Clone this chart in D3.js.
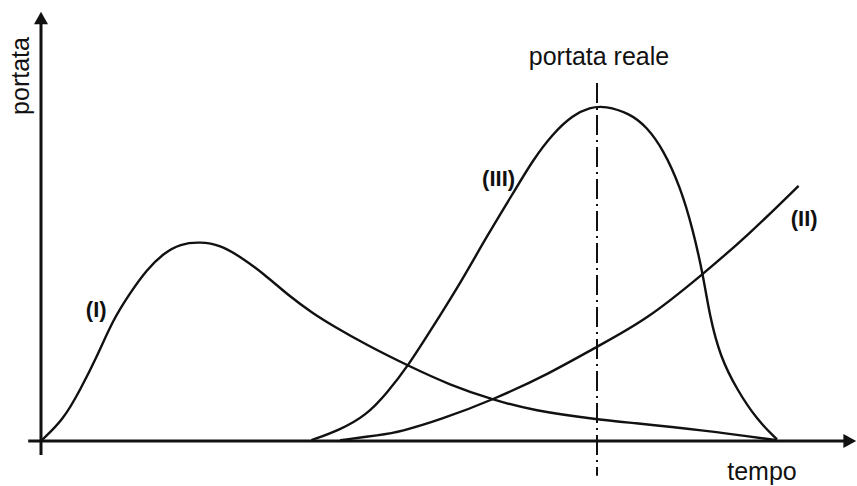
<!DOCTYPE html>
<html>
<head>
<meta charset="utf-8">
<script src="https://cdn.jsdelivr.net/npm/d3@7"></script>
<style>
  html, body { margin: 0; padding: 0; background: #fff; }
  svg { display: block; }
  text { font-family: "Liberation Sans", Arial, sans-serif; fill: #111; }
</style>
</head>
<body>
<svg id="chart" width="857" height="486"></svg>
<script>
// ---- data (time, flow) in arbitrary units ----
const timeI = [0, 2.8, 4.9, 7.0, 9.0, 11.1, 13.2, 15.3, 17.4, 19.9, 22.4, 24.9, 27.8, 31.1, 34.0, 36.5, 40.7, 45.9, 51.1, 56.5, 61.5, 69.5, 73.6, 82.4, 92.0];
const flowI = [0, 5.3, 12.8, 21.1, 30.3, 36.9, 42.8, 46.9, 49.3, 49.8, 49.0, 46.1, 41.9, 36.1, 31.9, 28.8, 24.0, 18.8, 14.0, 10.3, 7.6, 5.4, 4.6, 2.8, 0.2];

const timeII = [37.4, 42.4, 44.9, 49.9, 56.5, 63.6, 69.5, 75.7, 82.6, 88.2, 94.7];
const flowII = [0.2, 1.5, 2.3, 5.3, 10.3, 16.9, 23.6, 30.3, 41.5, 51.1, 63.8];

const timeIII = [33.8, 37.4, 40.7, 43.2, 45.9, 49.0, 52.4, 55.7, 59.0, 61.5, 64.0, 66.5, 68.6, 70.5, 73.6, 75.7, 77.8, 79.9, 81.5, 82.8, 83.6, 84.9, 87.0, 89.5, 92.0];
const flowIII = [0.2, 2.8, 6.5, 11.9, 18.8, 28.6, 39.4, 51.1, 61.9, 70.3, 76.9, 81.5, 83.4, 83.8, 81.9, 78.6, 72.8, 63.6, 52.8, 41.1, 31.1, 21.1, 12.8, 5.3, 0.4];

const seriesLabels = ["(I)", "(II)", "(III)"];
const axisLabelX = "tempo";
const axisLabelY = "portata";
const markerLabel = "portata reale";
const markerTime = 69.5;

// ---- scales ----
const svg = d3.select("#chart");
const x = d3.scaleLinear().domain([0, 100]).range([41, 841]);
const y = d3.scaleLinear().domain([0, 100]).range([441, 41]);

const line = d3.line()
  .x(d => x(d[0]))
  .y(d => y(d[1]))
  .curve(d3.curveBasis);

const zip = (a, b) => a.map((v, i) => [v, b[i]]);

// ---- axes ----
const axisG = svg.append("g");
axisG.append("line")
  .attr("x1", x(0)).attr("x2", x(0))
  .attr("y1", y(-3.5)).attr("y2", y(104.5))
  .attr("stroke", "#111").attr("stroke-width", 3);
axisG.append("path")
  .attr("d", `M${x(0)},${y(107.3)} L${x(0) - 7},${y(104.2)} L${x(0) + 7},${y(104.2)} Z`)
  .attr("fill", "#111");
axisG.append("line")
  .attr("x1", x(-1.6)).attr("x2", x(100.8))
  .attr("y1", y(0)).attr("y2", y(0))
  .attr("stroke", "#111").attr("stroke-width", 3);
axisG.append("path")
  .attr("d", `M${x(101.9)},${y(0)} L${x(100.3)},${y(0) - 7} L${x(100.3)},${y(0) + 7} Z`)
  .attr("fill", "#111");

// ---- marker line ----
svg.append("line")
  .attr("x1", x(markerTime)).attr("x2", x(markerTime))
  .attr("y1", y(89.5)).attr("y2", y(-8.7))
  .attr("stroke", "#111").attr("stroke-width", 2)
  .attr("stroke-dasharray", "20,5,2,5");

// ---- curves ----
const curves = [zip(timeI, flowI), zip(timeII, flowII), zip(timeIII, flowIII)];
svg.append("g").selectAll("path").data(curves).join("path")
  .attr("d", line)
  .attr("fill", "none")
  .attr("stroke", "#111")
  .attr("stroke-width", 2.4);

// ---- labels ----
const labelPos = [[6.9, 31], [95.4, 53.7], [57.2, 63.7]];
svg.append("g").selectAll("text").data(seriesLabels).join("text")
  .attr("x", (d, i) => x(labelPos[i][0]))
  .attr("y", (d, i) => y(labelPos[i][1]))
  .attr("text-anchor", "middle")
  .attr("font-weight", "bold")
  .attr("font-size", 22)
  .text(d => d);

svg.append("text")
  .attr("x", x(markerTime) + 2).attr("y", 65)
  .attr("text-anchor", "middle")
  .attr("font-size", 25)
  .text(markerLabel);

svg.append("text")
  .attr("x", 762).attr("y", 480)
  .attr("text-anchor", "middle")
  .attr("font-size", 25)
  .text(axisLabelX);

svg.append("text")
  .attr("transform", "translate(29,76) rotate(-90)")
  .attr("text-anchor", "middle")
  .attr("font-size", 25)
  .text(axisLabelY);
</script>
</body>
</html>
